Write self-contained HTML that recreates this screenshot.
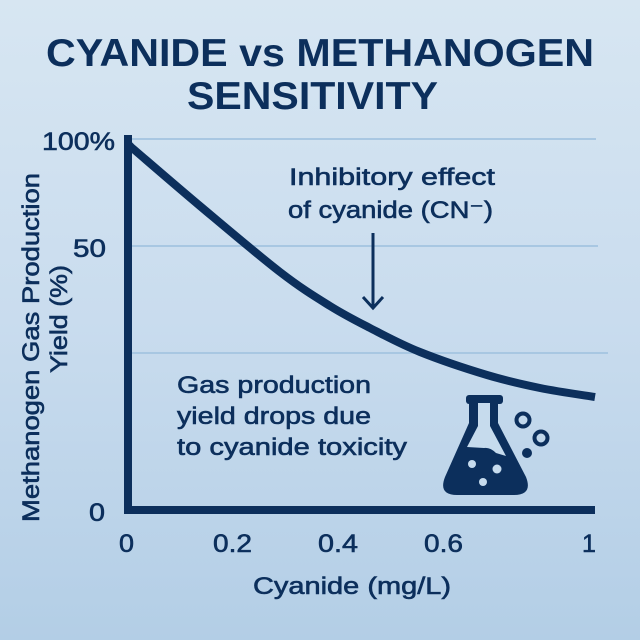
<!DOCTYPE html>
<html>
<head>
<meta charset="utf-8">
<style>
  html,body{margin:0;padding:0;background:#c8dcee;}
  svg{display:block;}
  text{font-family:"Liberation Sans","DejaVu Sans",sans-serif;fill:#0c2f5c;}
</style>
</head>
<body>
<svg width="640" height="640" viewBox="0 0 640 640" xmlns="http://www.w3.org/2000/svg">
  <defs>
    <linearGradient id="bg" x1="0" y1="0" x2="0" y2="1">
      <stop offset="0" stop-color="#d7e6f2"/>
      <stop offset="0.5" stop-color="#c9dcee"/>
      <stop offset="1" stop-color="#b3cee6"/>
    </linearGradient>
  </defs>
  <rect x="0" y="0" width="640" height="640" fill="url(#bg)"/>

  <!-- Title -->
  <text x="46" y="66" font-size="39" font-weight="bold" textLength="548" lengthAdjust="spacingAndGlyphs">CYANIDE vs METHANOGEN</text>
  <text x="187" y="109" font-size="39" font-weight="bold" textLength="251" lengthAdjust="spacingAndGlyphs">SENSITIVITY</text>

  <!-- gridlines -->
  <g stroke="#a8c7e2" stroke-width="2">
    <line x1="132" y1="139" x2="596" y2="139"/>
    <line x1="132" y1="246" x2="598" y2="246"/>
    <line x1="132" y1="353" x2="608" y2="353"/>
  </g>

  <!-- axes -->
  <rect x="124" y="135" width="8" height="379" fill="#0c2f5c"/>
  <rect x="124" y="506" width="471" height="8" fill="#0c2f5c"/>

  <!-- curve -->
  <path d="M129 145 L131 147 C142.5 156.8 175.2 185.2 200 206 C224.8 226.8 258.3 255.3 280 272 C301.7 288.7 315 296.7 330 306 C345 315.3 355 320.3 370 328 C385 335.7 400.5 344.2 420 352 C439.5 359.8 467 369 487 375 C507 381 522 384.3 540 388 C558 391.7 585.8 395.5 595 397"
        fill="none" stroke="#0c2f5c" stroke-width="8" stroke-linecap="butt" stroke-linejoin="round"/>

  <g stroke="#0c2f5c" stroke-width="0.6">
  <!-- Y tick labels -->
  <text x="42" y="150" font-size="25" textLength="73" lengthAdjust="spacingAndGlyphs">100%</text>
  <text x="73" y="257" font-size="25" textLength="33" lengthAdjust="spacingAndGlyphs">50</text>
  <text x="89" y="521" font-size="25" textLength="16" lengthAdjust="spacingAndGlyphs">0</text>

  <!-- X tick labels -->
  <text x="119" y="552" font-size="25" textLength="15" lengthAdjust="spacingAndGlyphs">0</text>
  <text x="213" y="552" font-size="25" textLength="39" lengthAdjust="spacingAndGlyphs">0.2</text>
  <text x="318" y="552" font-size="25" textLength="40" lengthAdjust="spacingAndGlyphs">0.4</text>
  <text x="424" y="552" font-size="25" textLength="39" lengthAdjust="spacingAndGlyphs">0.6</text>
  <text x="582" y="552" font-size="25">1</text>

  <!-- X axis label -->
  <text x="253" y="594" font-size="24" textLength="198" lengthAdjust="spacingAndGlyphs">Cyanide (mg/L)</text>

  <!-- Y axis label -->
  <text transform="translate(39,347.5) rotate(-90)" text-anchor="middle" font-size="24" textLength="349" lengthAdjust="spacingAndGlyphs">Methanogen Gas Production</text>
  <text transform="translate(67,319) rotate(-90)" text-anchor="middle" font-size="24" textLength="108" lengthAdjust="spacingAndGlyphs">Yield (%)</text>

  <!-- Annotation 1 -->
  <text x="289" y="185" font-size="24" textLength="206" lengthAdjust="spacingAndGlyphs">Inhibitory effect</text>
  <text x="288" y="218" font-size="24" textLength="205" lengthAdjust="spacingAndGlyphs">of cyanide (CN⁻)</text>

  <!-- Annotation 2 -->
  <text x="177" y="393" font-size="24" textLength="194" lengthAdjust="spacingAndGlyphs">Gas production</text>
  <text x="177" y="424" font-size="24" textLength="194" lengthAdjust="spacingAndGlyphs">yield drops due</text>
  <text x="177" y="455" font-size="24" textLength="230" lengthAdjust="spacingAndGlyphs">to cyanide toxicity</text>
  </g>

  <line x1="373" y1="233" x2="373" y2="306" stroke="#0c2f5c" stroke-width="3"/>
  <polyline points="363,297 373,308 383,297" fill="none" stroke="#0c2f5c" stroke-width="3" stroke-linejoin="miter"/>

  <!-- Flask icon -->
  <g fill="#0c2f5c">
    <rect x="466" y="395" width="37" height="9" rx="3"/>
    <path d="M469 403 L498 403 L498 423 L526 477 Q533 495 514 495 L457 495 Q438 495 445 477 L469 423 Z"/>
  </g>
  <path d="M478 403 L490 403 L490 426 L506 456 L496 453 Q490 447 484 448 L467 447 L478 426 Z" fill="#c6dbed"/>
  <g fill="#c6dbed">
    <circle cx="472" cy="464" r="4"/>
    <circle cx="497" cy="469" r="4.5"/>
    <circle cx="483" cy="482" r="4"/>
  </g>
  <g fill="none" stroke="#0c2f5c" stroke-width="4">
    <circle cx="523" cy="420" r="6.5"/>
    <circle cx="541" cy="438" r="6.5"/>
  </g>
  <circle cx="527" cy="453" r="5" fill="#0c2f5c"/>
</svg>
</body>
</html>
